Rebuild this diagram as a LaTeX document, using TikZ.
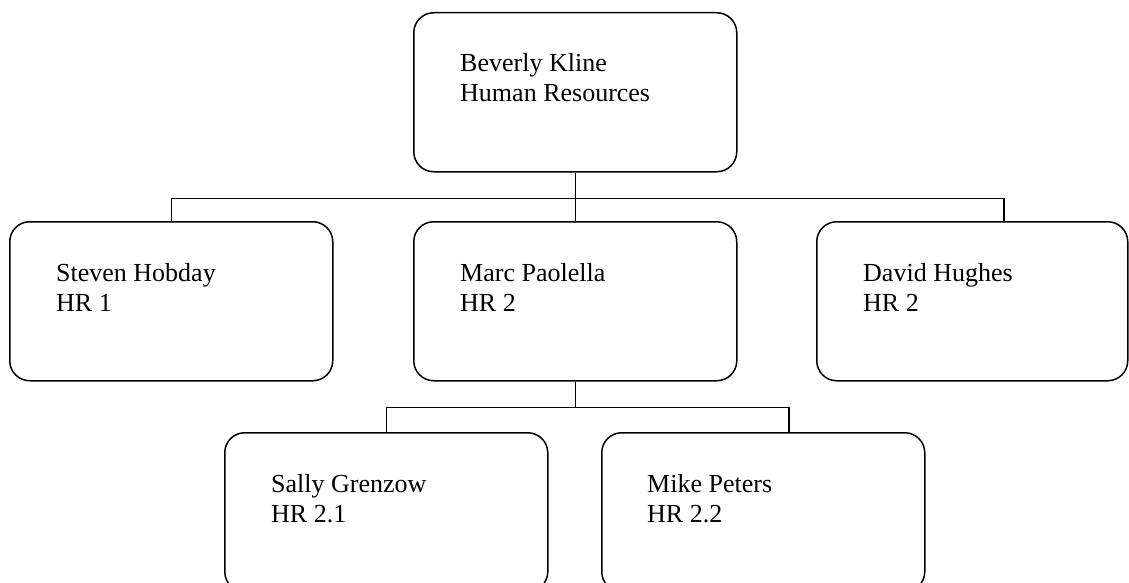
\documentclass[tikz,border=0pt]{standalone}
\usepackage{fontspec}
\setmainfont{Liberation Serif}
\usetikzlibrary{positioning}
\begin{document}
\begin{tikzpicture}[x=1pt, y=-1pt]
% Org chart, drawn on a 1129 x 583 grid (y grows downward)
\def\boxwd{323pt}
\def\boxht{159pt}
\providecommand{\orgLineWidth}{1.5pt}
\providecommand{\orgBoxRadius}{20pt}
\tikzset{
  orgbox/.style={draw, rectangle, rounded corners=\orgBoxRadius, line width=\orgLineWidth,
    minimum width=\boxwd, minimum height=\boxht, inner sep=0pt, anchor=north west},
  orgtext/.style={anchor=base west, align=left, inner sep=0pt,
    font=\fontsize{26}{30}\selectfont},
  orgline/.style={line width=\orgLineWidth}
}
\clip (0,0) rectangle (1129,583);
% Boxes
\node[orgbox] (kline) at (413,12) {};
\node[orgbox] (hobday) at (9,221) {};
\node[orgbox] (paolella) at (413,221) {};
\node[orgbox, minimum width=311pt] (hughes) at (816,221) {};
\node[orgbox] (grenzow) at (224,432) {};
\node[orgbox] (peters) at (601,432) {};
% Texts (base anchor sits on the second line)
\node[orgtext] (klineTxt) at ([xshift=47pt,yshift=-90pt]kline.north west) {Beverly Kline\\Human Resources};
\node[orgtext] (hobdayTxt) at ([xshift=47pt,yshift=-90pt]hobday.north west) {Steven Hobday\\HR 1};
\node[orgtext] (paolellaTxt) at ([xshift=47pt,yshift=-90pt]paolella.north west) {Marc Paolella\\HR 2};
\node[orgtext] (hughesTxt) at ([xshift=47pt,yshift=-90pt]hughes.north west) {David Hughes\\HR 2};
\node[orgtext] (grenzowTxt) at ([xshift=47pt,yshift=-90pt]grenzow.north west) {Sally Grenzow\\HR 2.1};
\node[orgtext] (petersTxt) at ([xshift=46pt,yshift=-90pt]peters.north west) {Mike Peters\\HR 2.2};
% Connectors
\coordinate (hughesTop) at ([xshift=188pt]hughes.north west);
\coordinate (petersTop) at ([xshift=188pt]peters.north west);
\draw[orgline] (kline.south) -- ++(0,26) -| (hobday.north);
\draw[orgline] (kline.south) -- (paolella.north);
\draw[orgline] (kline.south) -- ++(0,26) -| (hughesTop);
\draw[orgline] (paolella.south) -- ++(0,26) -| (grenzow.north);
\draw[orgline] (paolella.south) -- ++(0,26) -| (petersTop);
\end{tikzpicture}
\end{document}
